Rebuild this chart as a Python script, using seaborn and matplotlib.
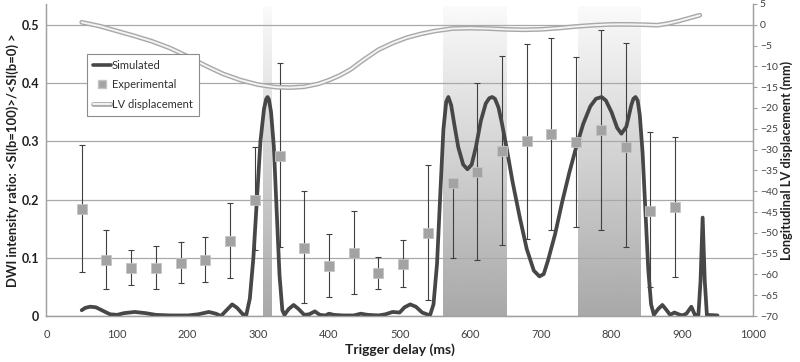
import numpy as np
import pandas as pd
import matplotlib
matplotlib.use("Agg")
import matplotlib.pyplot as plt
import matplotlib.patheffects as pe
from matplotlib.lines import Line2D
import seaborn as sns

# simulated DWI ratio (left axis)
sim_x = [50, 55, 62, 70, 80, 90, 100, 110, 125, 140, 155, 175, 200, 215, 230, 240, 247,
         255, 263, 270, 278, 283, 288, 293, 298, 303, 308, 311, 313, 315, 318, 322, 326,
         330, 334, 337, 343, 350, 357, 365, 372, 380, 387, 395, 400, 407, 420, 435, 445,
         455, 470, 480, 490, 500, 507, 515, 523, 532, 543, 548, 553, 558, 562, 566, 569,
         573, 578, 583, 590, 596, 602, 608, 615, 622, 627, 631, 635, 640, 645, 652, 660,
         670, 680, 690, 698, 704, 710, 720, 730, 740, 750, 760, 770, 778, 786, 792, 800,
         808, 814, 821, 828, 831, 834, 837, 840, 844, 848, 852, 856, 860, 866, 872, 878,
         883, 889, 895, 900, 906, 913, 918, 923, 926, 929, 932, 935, 950]
sim_y = [0.010, 0.014, 0.016, 0.015, 0.009, 0.003, 0.002, 0.005, 0.007, 0.005, 0.002,
         0.001, 0.001, 0.003, 0.007, 0.004, 0.000, 0.010, 0.020, 0.014, 0.003, 0.002,
         0.030, 0.100, 0.200, 0.300, 0.355, 0.372, 0.376, 0.372, 0.350, 0.290, 0.180,
         0.070, 0.010, 0.002, 0.012, 0.019, 0.012, 0.002, 0.003, 0.008, 0.002, 0.001,
         0.004, 0.002, 0.001, 0.001, 0.004, 0.002, 0.001, 0.003, 0.007, 0.006, 0.015,
         0.020, 0.016, 0.006, 0.001, 0.020, 0.090, 0.220, 0.320, 0.368, 0.376, 0.362,
         0.325, 0.290, 0.260, 0.252, 0.260, 0.290, 0.335, 0.365, 0.374, 0.376, 0.373,
         0.358, 0.330, 0.285, 0.230, 0.170, 0.115, 0.078, 0.068, 0.072, 0.095, 0.140,
         0.195, 0.245, 0.290, 0.330, 0.360, 0.373, 0.376, 0.370, 0.350, 0.323, 0.313,
         0.325, 0.362, 0.373, 0.376, 0.370, 0.345, 0.280, 0.180, 0.080, 0.020, 0.002,
         0.012, 0.019, 0.010, 0.002, 0.006, 0.003, 0.001, 0.004, 0.016, 0.002, 0.002,
         0.060, 0.169, 0.060, 0.002, 0.001]

# experimental points with error bars
exp_x = [50, 85, 120, 155, 190, 225, 260, 295, 330, 365, 400, 435, 470, 505, 540,
         575, 610, 645, 680, 715, 750, 785, 820, 855, 890]
exp_y = [0.183, 0.096, 0.083, 0.083, 0.091, 0.096, 0.129, 0.200, 0.275, 0.117, 0.086,
         0.109, 0.074, 0.089, 0.143, 0.229, 0.247, 0.283, 0.300, 0.312, 0.298, 0.319,
         0.291, 0.180, 0.188]
exp_hi = [0.293, 0.147, 0.114, 0.120, 0.127, 0.136, 0.194, 0.291, 0.435, 0.215, 0.140,
          0.181, 0.102, 0.130, 0.260, 0.229, 0.400, 0.447, 0.467, 0.477, 0.445, 0.491,
          0.469, 0.316, 0.307]
exp_lo = [0.075, 0.047, 0.054, 0.047, 0.056, 0.058, 0.066, 0.113, 0.119, 0.022, 0.033,
          0.038, 0.047, 0.049, 0.027, 0.099, 0.097, 0.122, 0.133, 0.147, 0.153, 0.147,
          0.118, 0.050, 0.067]

# LV displacement (right axis, mm)
lv_x = [50, 75, 100, 125, 150, 175, 200, 225, 250, 275, 300, 325, 345, 365, 385, 400,
        415, 430, 450, 470, 490, 510, 530, 550, 575, 600, 625, 650, 675, 700, 725, 750,
        775, 800, 825, 850, 865, 880, 895, 910, 925]
lv_y = [0.6, -0.3, -1.5, -2.7, -4.0, -5.6, -7.6, -9.8, -11.8, -13.3, -14.4, -15.0, -15.1,
        -14.9, -14.2, -13.3, -12.2, -10.8, -8.3, -6.0, -4.4, -3.1, -2.2, -1.5, -0.9, -0.8,
        -0.9, -1.1, -1.2, -1.1, -0.8, -0.4, -0.1, 0.1, 0.1, 0.0, -0.1, 0.3, 0.9, 1.6, 2.3]

# shaded windows (ms)
bands = [(306, 318), (562, 652), (753, 842)]

sns.set_style("white")
plt.rcParams["font.family"] = ["Lato", "DejaVu Sans"]

fig = plt.figure(figsize=(8, 3.62), dpi=100)
ax = fig.add_axes([0.058, 0.127, 0.883, 0.862])
ax2 = ax.twinx()

y_top = 0.5357
grad = np.linspace(0.98, 0.66, 256).reshape(-1, 1)
for x0, x1 in bands:
    ax.imshow(grad, extent=[x0, x1, 0, 0.531], aspect="auto", cmap="gray",
              vmin=0, vmax=1, origin="upper", zorder=0)

sim_df = pd.DataFrame({"x": sim_x, "y": sim_y})
exp_df = pd.DataFrame({"x": exp_x, "y": exp_y})
lv_df = pd.DataFrame({"x": lv_x, "y": lv_y})

ax.errorbar(exp_x, exp_y,
            yerr=[np.array(exp_y) - np.array(exp_lo), np.array(exp_hi) - np.array(exp_y)],
            fmt="none", ecolor="#404040", elinewidth=0.8, capsize=2, capthick=0.8, zorder=2)
sns.lineplot(data=sim_df, x="x", y="y", ax=ax, color="#474747", lw=2.7, zorder=3,
             sort=False, estimator=None)
sns.scatterplot(data=exp_df, x="x", y="y", ax=ax, marker="s", s=42, color="#a3a3a3",
                edgecolor="#c4c4c4", linewidth=0.6, zorder=4)

lv_fx = [pe.Stroke(linewidth=3.4, foreground="#a8a8a8"), pe.Stroke(linewidth=1.4, foreground="#f4f4f4")]
sns.lineplot(data=lv_df, x="x", y="y", ax=ax2, color="#f4f4f4", lw=1.4,
             path_effects=lv_fx, sort=False, estimator=None)

ax.set_xlim(0, 1000)
ax.set_ylim(0, y_top)
ax2.set_ylim(-70, 5)
ax.set_xticks(range(0, 1001, 100))
ax.set_yticks([0, 0.1, 0.2, 0.3, 0.4, 0.5])
ax.set_yticklabels(["0", "0.1", "0.2", "0.3", "0.4", "0.5"])
ax2.set_yticks(range(-70, 6, 5))

ax.set_axisbelow(True)
ax.yaxis.grid(True, color="#a9a9a9", lw=0.9)
ax.xaxis.grid(False)
ax2.grid(False)

for a in (ax, ax2):
    a.spines["top"].set_visible(False)
    for s in ("left", "right", "bottom"):
        a.spines[s].set_color("#a0a0a0")
        a.spines[s].set_linewidth(0.9)

ax.tick_params(axis="x", direction="out", length=4, width=0.8, color="#a0a0a0",
               labelsize=8, labelcolor="#404040", pad=5)
ax.tick_params(axis="y", length=0, labelsize=9, labelcolor="#202020", pad=5)
for t in ax.get_yticklabels():
    t.set_fontweight("bold")
ax2.tick_params(axis="y", direction="out", length=3, width=0.8, color="#a0a0a0",
                labelsize=7.5, labelcolor="#404040", pad=2)

ax.set_xlabel("Trigger delay (ms)", fontsize=10, fontweight="bold", color="#202020", labelpad=3)
ax.set_ylabel("DWI intensity ratio: <SI(b=100)>/<SI(b=0) >", fontsize=9.4,
              fontweight="bold", color="#202020", labelpad=2)
ax2.set_ylabel("Longitudinal LV displacement (mm)", fontsize=9.2, fontweight="bold",
               color="#202020", labelpad=2)

handles = [
    Line2D([], [], color="#474747", lw=2.6),
    Line2D([], [], ls="none", marker="s", ms=6, color="#a3a3a3", mec="#c4c4c4"),
    Line2D([], [], color="#f4f4f4", lw=1.4, path_effects=lv_fx),
]
leg = ax2.legend(handles, ["Simulated", "Experimental", "LV displacement"],
                 loc="upper left", bbox_to_anchor=(0.057, 0.84), fontsize=8,
                 frameon=True, fancybox=False, handlelength=1.6, handletextpad=0.1,
                 labelspacing=0.75, borderpad=0.55, borderaxespad=0)
leg.get_frame().set_edgecolor("#8c8c8c")
leg.get_frame().set_linewidth(0.8)
leg.get_frame().set_alpha(1)
for t in leg.get_texts():
    t.set_color("#303030")

fig.savefig("out.png", dpi=100)
